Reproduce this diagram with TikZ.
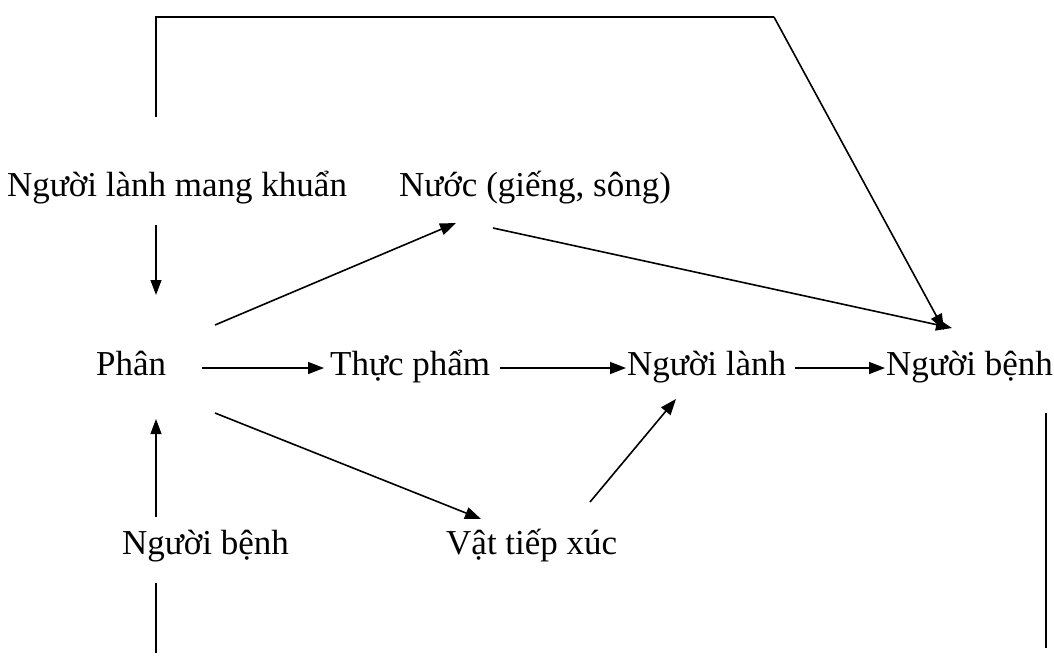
\documentclass[tikz,border=0pt]{standalone}
\usepackage{fontspec}
\setmainfont{Liberation Serif}
\usetikzlibrary{arrows.meta,calc}
\tikzset{
  lbl/.style={anchor=base west, inner sep=0pt, font=\fontsize{35}{41}\selectfont},
  link/.style={line width=1.6pt},
  arr/.style={link, -{Triangle[length=16pt,width=12pt]}},
  vlink/.style={line width=1.1pt},
  varr/.style={vlink, -{Triangle[length=15pt,width=11pt]}}
}
\begin{document}
\begin{tikzpicture}[x=1pt,y=-1pt]
\useasboundingbox (0,0) rectangle (1054,657);

% labels
\node[lbl] (nlmk)   at (7,196)   {Người lành mang khuẩn};
\node[lbl] (nuoc)   at (399,196) {Nước (giếng, sông)};
\node[lbl] (phan)   at (96,375)  {Phân};
\node[lbl] (thuc)   at (330,375) {Thực phẩm};
\node[lbl] (nlanh)  at (627,375) {Người lành};
\node[lbl] (nbenh)  at (886,375) {Người bệnh};
\node[lbl] (nbenhL) at (122,554) {Người bệnh};
\node[lbl] (vat)    at (446,554) {Vật tiếp xúc};

% loose ends and the corner of the top loop
\coordinate (topR)  at (774,17);
\coordinate (endBL) at (156,653);
\coordinate (endR)  at (1046,648);

% top loop from the healthy carrier to the patient
\draw[vlink] ($(nlmk.base west)+(149,-79)$) -- ($(nlmk.base west)+(149,-178)$);
\draw[line width=2pt] ($(nlmk.base west)+(148,-179)$) -- (topR);
\draw[arr] (topR) -- ($(nbenh.base west)+(58,-45)$);

% vertical arrows into "Phân"
\draw[varr] ($(nlmk.base west)+(149,29)$) -- ($(phan.base west)+(60,-80)$);
\draw[varr] ($(nbenhL.base west)+(34,-37)$) -- ($(phan.base west)+(60,44)$);

% from "Phân"
\draw[arr] ($(phan.base west)+(119,-50)$) -- ($(nuoc.base west)+(57,27)$);
\draw[arr] ($(phan.base west)+(106,-7)$) -- ($(thuc.base west)+(-6,-7)$);
\draw[arr] ($(phan.base west)+(119,38)$) -- ($(vat.base west)+(35,-35)$);

% water to patient
\draw[arr] ($(nuoc.base west)+(94,32)$) -- ($(nbenh.base west)+(66,-47)$);

% main chain
\draw[arr] ($(thuc.base west)+(170,-7)$) -- ($(nlanh.base west)+(-1,-7)$);
\draw[arr] ($(nlanh.base west)+(168,-7)$) -- ($(nbenh.base west)+(-1,-7)$);

% contact objects to healthy person
\draw[arr] ($(vat.base west)+(144,-52)$) -- ($(nlanh.base west)+(49,24)$);

% open lines at the bottom
\draw[vlink] ($(nbenhL.base west)+(34,29)$) -- (endBL);
\draw[vlink] ($(nbenh.base west)+(160,38)$) -- (endR);
\end{tikzpicture}
\end{document}
